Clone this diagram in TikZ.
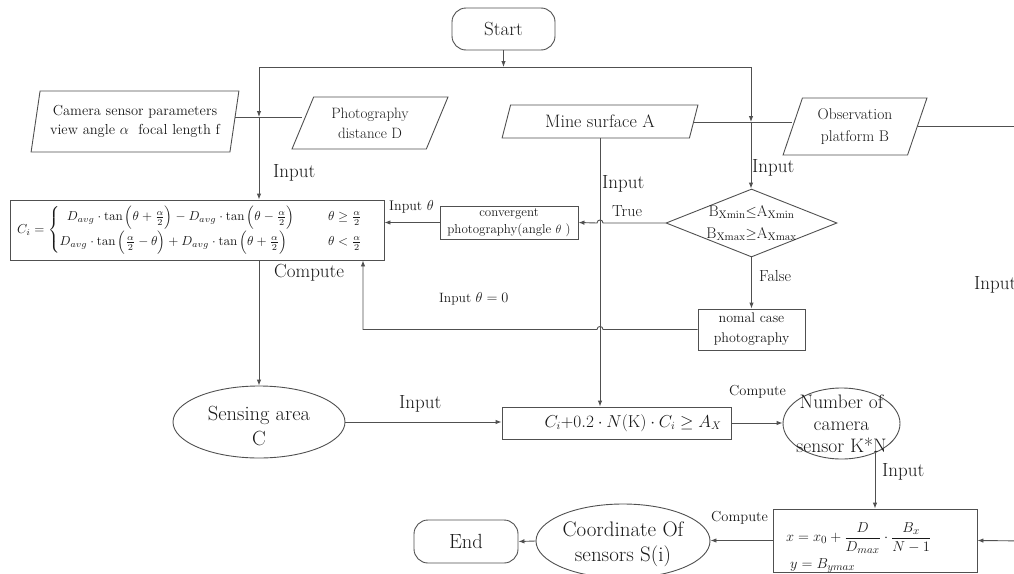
\documentclass[tikz,border=0pt]{standalone}
\usepackage{amsmath}
\usepackage{graphicx}
\usetikzlibrary{shapes.geometric,arrows.meta,calc}
\definecolor{ln}{RGB}{80,80,80}
\definecolor{tx}{RGB}{25,25,25}
\tikzset{
  every node/.append style={text=tx},
  flow/.style={draw=ln, line width=0.9pt},
  arr/.style={flow, -{Latex[length=6pt,width=4.5pt]}},
  rbox/.style={draw=ln, line width=0.9pt, rectangle, inner sep=0pt},
  term/.style={rbox, rounded corners=14pt},
  para/.style={draw=ln, line width=0.9pt, trapezium, trapezium stretches=true, inner sep=0pt, align=center},
  oval/.style={draw=ln, line width=0.9pt, ellipse, inner sep=0pt},
  lab/.style={anchor=west, inner sep=0pt},
  lbig/.style={font=\fontsize{19}{21}\selectfont},
  lsmall/.style={font=\fontsize{13.5}{15}\selectfont},
  lcomp/.style={font=\fontsize{14.5}{16}\selectfont},
}
\begin{document}
\begin{tikzpicture}[x=1pt,y=-1pt]
\useasboundingbox (0,0) rectangle (1014,573);
\clip (0,0) rectangle (1014,573);

% ---- terminals and inputs ----
\node[term, lbig, minimum width=103pt, minimum height=42pt] (start) at (503.5,29) {Start};
\node[para, trapezium left angle=76, trapezium right angle=104, minimum width=208pt, minimum height=61pt,
      font=\fontsize{14.5}{19}\selectfont] (cam) at (135,121.5) {Camera sensor parameters\\view angle $\alpha$\ \ focal length f};
\node[para, trapezium left angle=64, trapezium right angle=116, minimum width=156pt, minimum height=52pt,
      font=\fontsize{15}{20}\selectfont] (photo) at (370,123) {Photography\\distance D};
\node[para, trapezium left angle=68, trapezium right angle=112, minimum width=196pt, minimum height=33pt,
      font=\fontsize{18}{20}\selectfont] (mine) at (600,121.5) {Mine surface A};
\node[para, trapezium left angle=69, trapezium right angle=111, minimum width=144pt, minimum height=57pt,
      font=\fontsize{15.5}{22}\selectfont] (obs) at (855,126.5) {Observation\\platform B};

% ---- sensing-area formula ----
\node[rbox, minimum width=374pt, minimum height=60pt] (ci) at (197,230) {};
\node[lab] at (17,230)
  {\resizebox{346pt}{!}{$C_i = \left\{\begin{array}{@{}c@{\hspace{26pt}}c@{}}
   \;\;D_{avg}\cdot\tan\Big(\theta+\frac{\alpha}{2}\Big) - D_{avg}\cdot\tan\Big(\theta-\frac{\alpha}{2}\Big) & \theta\ge\frac{\alpha}{2}\\[4pt]
   D_{avg}\cdot\tan\Big(\frac{\alpha}{2}-\theta\Big) + D_{avg}\cdot\tan\Big(\theta+\frac{\alpha}{2}\Big)\;\; & \theta<\frac{\alpha}{2}
   \end{array}\right.$}};

% ---- decision and photography modes ----
\node[rbox, minimum width=138pt, minimum height=33pt, align=center, font=\fontsize{13}{17}\selectfont]
  (conv) at (509,222.5) {convergent\\photography(angle $\theta$ )};
\node[draw=ln, line width=0.9pt, diamond, minimum width=171pt, minimum height=68pt, inner sep=0pt] (dec) at (751.5,223) {};
\node[font=\fontsize{15.5}{22}\selectfont, align=center] at (dec)
  {B$_{\mathrm{Xmin}}{\le}$A$_{\mathrm{Xmin}}$\\B$_{\mathrm{Xmax}}{\ge}$A$_{\mathrm{Xmax}}$};
\node[rbox, minimum width=107pt, minimum height=41pt, align=center, font=\fontsize{14}{20}\selectfont]
  (norm) at (751.5,329.5) {nomal case\\photography};

% ---- results ----
\node[oval, minimum width=172pt, minimum height=72pt] (sens) at (259,422) {};
\node[align=center, font=\fontsize{20.5}{25}\selectfont] at (259,426) {Sensing area\\C};

\node[rbox, minimum width=229pt, minimum height=32pt] (calc) at (616.5,423) {};
\node[font=\fontsize{16}{18}\selectfont] at (633,423) {$C_i{+}0.2\cdot N(\mathrm{K})\cdot C_i\ge A_X$};

\node[oval, minimum width=117pt, minimum height=71pt] (num) at (841.5,423.5) {};
\node[align=center, font=\fontsize{19.5}{22}\selectfont] at (841.5,424) {Number of\\camera\\sensor K*N};

\node[rbox, minimum width=204pt, minimum height=63pt] (pos) at (875,540.5) {};
\node[lab, font=\fontsize{15}{17}\selectfont] at (786,538) {$x = x_0 + \dfrac{D}{D_{max}}\cdot\dfrac{B_x}{N-1}$};
\node[lab, font=\fontsize{15}{17}\selectfont] at (790,566) {$y = B_{ymax}$};

\node[oval, minimum width=174pt, minimum height=74pt] (coord) at (623,541) {};
\node[align=center, font=\fontsize{21}{25}\selectfont] at (623,544) {Coordinate Of\\sensors S(i)};

\node[term, minimum width=104pt, minimum height=43pt, font=\fontsize{20.5}{22}\selectfont] (end) at (466,541.5) {End};

% ---- connectors ----
\coordinate (top) at (503.5,67);
\coordinate (tl) at (259,67);
\coordinate (tr) at (751,67);
\coordinate (jl) at (259,117);
\coordinate (jr) at (751,122);
\coordinate (ret) at (363,329.5);
\coordinate (rin) at (1030,541);

\draw[arr] (start) -- (top);
\draw[flow] (tl) -- (tr);
\draw[arr] (tl) -- (jl);
\draw[flow] (cam.east |- jl) -- (photo.west |- jl);
\draw[arr] (jl) -- (jl |- ci.north);
\draw[arr] (tr) -- (jr);
\draw[flow] (mine.east |- jr) -- (obs.west |- jr);
\draw[arr] (jr) -- (jr |- dec.north);
\draw[flow] (obs.east) -- ++(130,0);

\draw[arr] (mine.south) -- (mine.south |- calc.north);

\coordinate (h1) at (mine.south |- dec.west);
\draw[arr] (dec.west) -- ($(h1)+(3,0)$) .. controls +(0,-4) and +(0,-4) .. ($(h1)+(-3,0)$) -- (conv.east);
\draw[arr] (conv.west) -- (conv.west -| ci.east);
\draw[arr] (dec.south) -- (norm.north);

\coordinate (h2) at (mine.south |- norm.west);
\draw[arr] (norm.west) -- ($(h2)+(3,0)$) .. controls +(0,-4) and +(0,-4) .. ($(h2)+(-3,0)$) -- (ret) -- (ret |- ci.south);

\draw[arr] (sens.north |- ci.south) -- (sens.north);
\draw[arr] (sens.east) -- (sens.east -| calc.west);
\draw[arr] (calc.east) -- (calc.east -| num.west);
\draw[arr] (num.-40 -| pos.north) -- (pos.north);
\draw[arr] (rin) -- (pos.east);
\draw[arr] (pos.west) -- (pos.west -| coord.east);
\draw[arr] (coord.west) -- (end.east);

% ---- connector labels ----
\node[lab, lbig] at (273,173) {Input};
\node[lab, lbig] at (602,184) {Input};
\node[lab, lbig] at (752,168) {Input};
\node[lab, font=\fontsize{16}{18}\selectfont] at (612,211) {True};
\node[lab, font=\fontsize{14}{16}\selectfont] at (389,207) {Input $\theta$};
\node[lab, lsmall] at (439,299) {Input $\theta=0$};
\node[lab, lbig] at (274,273) {Compute};
\node[lab, font=\fontsize{16}{18}\selectfont] at (759,276) {False};
\node[lab, lbig] at (974,285) {Input};
\node[lab, lbig] at (399,404) {Input};
\node[lab, lcomp] at (729,392) {Compute};
\node[lab, lbig] at (882,472) {Input};
\node[lab, lcomp] at (711,518) {Compute};
\end{tikzpicture}
\end{document}
